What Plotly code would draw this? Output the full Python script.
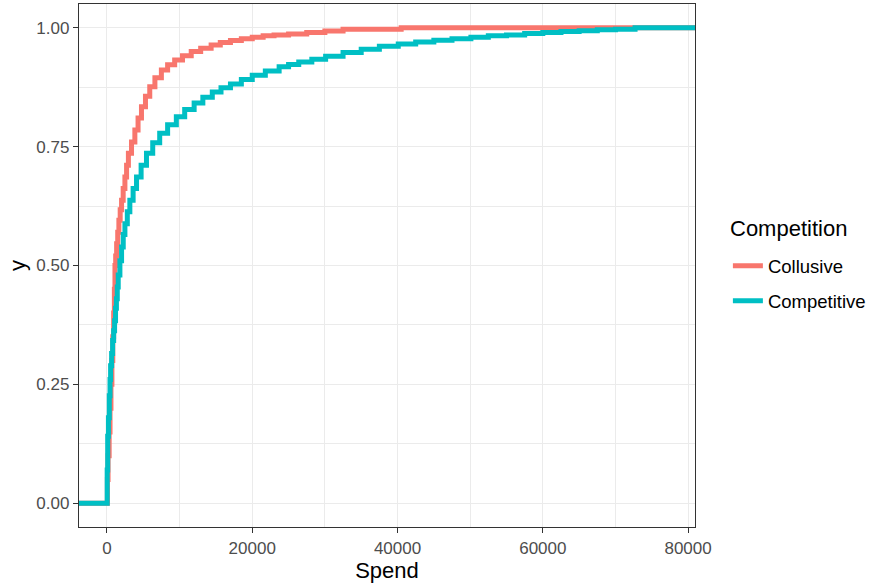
import plotly.graph_objects as go

# ---- data (ECDF step points) ----
series_names = ["Collusive", "Competitive"]

collusive_spend = [60, 150, 300, 420, 550, 680, 800, 920, 1020, 1100, 1200, 1330, 1480,
                   1640, 1820, 2010, 2230, 2470, 2700, 2950, 3380, 3840, 4280, 4750,
                   5300, 5890, 6600, 7490, 8350, 9320, 10400, 11600, 12900, 14340,
                   15600, 17000, 18500, 20000, 21500, 23000, 25000, 27500, 30000,
                   32500, 40500]
collusive_y = [0.05, 0.10, 0.15, 0.20, 0.25, 0.30, 0.35, 0.40, 0.45, 0.50, 0.52, 0.546,
               0.57, 0.595, 0.617, 0.637, 0.662, 0.686, 0.711, 0.736, 0.760, 0.785,
               0.810, 0.834, 0.856, 0.876, 0.895, 0.911, 0.922, 0.932, 0.941, 0.950,
               0.957, 0.964, 0.969, 0.973, 0.977, 0.980, 0.983, 0.985, 0.987, 0.990,
               0.993, 0.997, 1.0]

competitive_spend = [30, 100, 200, 320, 420, 500, 640, 780, 920, 1050, 1180, 1300, 1420,
                     1550, 1780, 2010, 2240, 2470, 2800, 3150, 3600, 4070, 4700, 5440,
                     6300, 7260, 8350, 9550, 10700, 12000, 13200, 14500, 15700, 17000,
                     18500, 20000, 21800, 23700, 25000, 26400, 28200, 30100, 32500,
                     35000, 37500, 40100, 42500, 45000, 47500, 50100, 52500, 55000,
                     57500, 60000, 62500, 65000, 67500, 70000, 72700]
competitive_y = [0.07, 0.141, 0.18, 0.226, 0.26, 0.289, 0.315, 0.342, 0.363, 0.384, 0.41,
                 0.43, 0.455, 0.48, 0.51, 0.539, 0.565, 0.588, 0.613, 0.637, 0.662, 0.686,
                 0.711, 0.736, 0.758, 0.778, 0.796, 0.813, 0.828, 0.842, 0.854, 0.865,
                 0.874, 0.882, 0.891, 0.900, 0.909, 0.918, 0.923, 0.928, 0.934, 0.940,
                 0.948, 0.955, 0.961, 0.966, 0.970, 0.974, 0.977, 0.980, 0.983, 0.985,
                 0.988, 0.990, 0.992, 0.994, 0.996, 0.997, 1.0]

x_ticks = [0, 20000, 40000, 60000, 80000]
x_tick_labels = ["0", "20000", "40000", "60000", "80000"]
y_ticks = [0.0, 0.25, 0.5, 0.75, 1.0]
y_tick_labels = ["0.00", "0.25", "0.50", "0.75", "1.00"]

X_RANGE = [-3850, 80950]
Y_RANGE = [-0.05, 1.05]

colors = {"Collusive": "#F8766D", "Competitive": "#00BFC4"}
FONT = "Liberation Sans, Arial, sans-serif"

fig = go.Figure()
for name, xs, ys in [("Collusive", collusive_spend, collusive_y),
                     ("Competitive", competitive_spend, competitive_y)]:
    # stat_ecdf pads with -Inf / Inf
    fig.add_trace(go.Scatter(
        x=[X_RANGE[0]] + xs + [X_RANGE[1]],
        y=[0.0] + ys + [1.0],
        mode="lines",
        line=dict(color=colors[name], width=5, shape="hv"),
        name=name,
        legendgroup=name,
        hoverinfo="skip",
    ))

axis_common = dict(
    showgrid=True, gridcolor="#EBEBEB", gridwidth=1.4,
    zeroline=False,
    showline=True, linecolor="#333333", linewidth=1.3, mirror=True,
    ticks="outside", ticklen=5, tickwidth=1.3, tickcolor="#333333",
    tickfont=dict(family=FONT, size=17, color="#4D4D4D"),
)

fig.update_layout(
    width=875, height=585,
    margin=dict(l=79, r=178, t=4, b=58),
    paper_bgcolor="white", plot_bgcolor="white",
    font=dict(family=FONT, color="black"),
    xaxis=dict(
        range=X_RANGE,
        tickvals=x_ticks, ticktext=x_tick_labels,
        minor=dict(dtick=10000, tick0=0, showgrid=True, gridcolor="#EBEBEB", gridwidth=1.0, ticks=""),
        title=dict(text="Spend", font=dict(family=FONT, size=22, color="black"), standoff=6),
        **axis_common,
    ),
    yaxis=dict(
        range=Y_RANGE,
        tickvals=y_ticks, ticktext=y_tick_labels,
        minor=dict(dtick=0.125, tick0=0, showgrid=True, gridcolor="#EBEBEB", gridwidth=1.0, ticks=""),
        title=dict(text="y", font=dict(family=FONT, size=22, color="black"), standoff=4),
        **axis_common,
    ),
    legend=dict(
        font=dict(family=FONT, size=18.5, color="black"),
        x=1.0534, xanchor="left", y=0.535, yanchor="top",
        tracegroupgap=8,
        bgcolor="rgba(0,0,0,0)",
    ),
    annotations=[dict(
        text="Competition", xref="paper", yref="paper",
        x=1.0534, xanchor="left", y=0.5717, yanchor="middle",
        showarrow=False, font=dict(family=FONT, size=22, color="black"),
    )],
)

fig.write_html("out.html")
